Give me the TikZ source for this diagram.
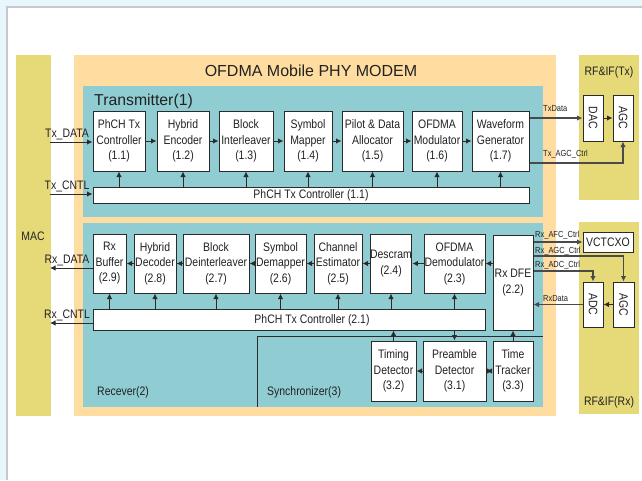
\documentclass[tikz,border=0pt]{standalone}
\usepackage{fontspec}
\usepackage{graphicx}
\setmainfont{Liberation Sans}
\newfontfamily\narrowfont[FakeStretch=0.85]{Liberation Sans}
\usepackage{xcolor}
\usetikzlibrary{arrows.meta}

\definecolor{pageblue}{HTML}{EAF6FD}
\definecolor{bordergray}{HTML}{C6C9CC}
\definecolor{macyellow}{HTML}{E6DA78}
\definecolor{modemorange}{HTML}{FFDDA0}
\definecolor{unitteal}{HTML}{8FCDD3}
\definecolor{linegray}{HTML}{2B2B2B}
\definecolor{siggray}{HTML}{4A4A4A}
\definecolor{textgray}{HTML}{222222}

\begin{document}
\begin{tikzpicture}[x=1pt, y=-1pt]

        \tikzset{
            blk/.style={draw=linegray, fill=white, line width=1pt, inner sep=0pt,
                align=center, text=textgray, font=\narrowfont\fontsize{12.3}{15.5}\selectfont},
            lbl/.style={inner sep=0pt, text=textgray, font=\narrowfont\fontsize{12.3}{14}\selectfont},
            siglbl/.style={inner sep=0pt, text=textgray, font=\narrowfont\fontsize{8.8}{10}\selectfont},
            arr/.style={draw=linegray, line width=1pt, -{Latex[length=5.5pt,width=5.5pt]}},
            darr/.style={draw=linegray, line width=1pt, {Latex[length=5.5pt,width=5.5pt]}-{Latex[length=5.5pt,width=5.5pt]}},
            sig/.style={draw=siggray, line width=1.3pt}
        }

        % Page and frame
        \useasboundingbox (0,0) rectangle (642,480);
        \fill[pageblue] (0,0) rectangle (642,480);
        \fill[white] (7,7) rectangle (642,480);
        \draw[bordergray, line width=1.5pt] (7,480) -- (7,7) -- (642,7);

        % 1. Regions (MAC, modem, RF parts, units)
        \fill[macyellow] (16,55) rectangle (51,416);
        \fill[modemorange] (74,55) rectangle (556,416);
        \fill[macyellow] (579,55) rectangle (639,200);
        \fill[macyellow] (579,222) rectangle (639,414);
        \fill[unitteal] (83,86) rectangle (543,217);
        \fill[unitteal] (83,223) rectangle (543,407);

        \node[lbl] (mac) at (33,236) {MAC};
        \node[inner sep=0pt, text=textgray, font=\fontsize{16}{18}\selectfont] (modem) at (311,71) {OFDMA Mobile PHY MODEM};
        \node[lbl] (rftx) at (609,72) {RF\&IF(Tx)};
        \node[lbl] (rfrx) at (609,402.5) {RF\&IF(Rx)};
        \node[inner sep=0pt, text=textgray, font=\fontsize{15.8}{18}\selectfont, anchor=base west] (txunit) at (94,105) {Transmitter(1)};
        \node[lbl, anchor=base west] (rxunit) at (97,395) {Recever(2)};
        \node[lbl, anchor=base west] (syncunit) at (267,395) {Synchronizer(3)};

        % Synchronizer outline
        \draw[linegray, line width=1pt] (257,407) -- (257,336) -- (543,336);

        % 2. Transmitter chain
        \node[blk, minimum width=52pt, minimum height=60pt] (tx1) at (119,141) {PhCH Tx\\Controller\\(1.1)};
        \node[blk, minimum width=52pt, minimum height=60pt] (tx2) at (183,141) {Hybrid\\Encoder\\(1.2)};
        \node[blk, minimum width=54pt, minimum height=60pt] (tx3) at (246,141) {Block\\Interleaver\\(1.3)};
        \node[blk, minimum width=48pt, minimum height=60pt] (tx4) at (308,141) {Symbol\\Mapper\\(1.4)};
        \node[blk, minimum width=61pt, minimum height=60pt] (tx5) at (372.5,141) {Pilot \& Data\\Allocator\\(1.5)};
        \node[blk, minimum width=50pt, minimum height=60pt] (tx6) at (437,141) {OFDMA\\Modulator\\(1.6)};
        \node[blk, minimum width=57pt, minimum height=60pt] (tx7) at (500.5,141) {Waveform\\Generator\\(1.7)};
        \node[blk, minimum width=436pt, minimum height=16pt] (txbar) at (311,195) {PhCH Tx Controller (1.1)};

        \foreach \a/\b in {tx1/tx2, tx2/tx3, tx3/tx4, tx4/tx5, tx5/tx6, tx6/tx7}
            \draw[arr] (\a) -- (\b);
        \foreach \b in {tx1, tx2, tx3, tx4, tx5, tx6, tx7}
            \draw[arr] (\b.south |- txbar.north) -- (\b.south);

        % MAC -> transmitter
        \coordinate (txdata) at (50,142);
        \coordinate (txcntl) at (50,194);
        \draw[arr] (txdata) -- (txdata -| tx1.west);
        \draw[arr] (txcntl) -- (txcntl -| txbar.west);
        \node[lbl, anchor=base] (txdatalbl) at (67,137) {Tx\_DATA};
        \node[lbl, anchor=base] (txcntllbl) at (67,189) {Tx\_CNTL};

        % 3. RF&IF (Tx)
        \node[blk, minimum width=20pt, minimum height=46pt] (dac) at (593,118) {\rotatebox{-90}{DAC}};
        \node[blk, minimum width=20pt, minimum height=46pt] (agctx) at (623,118) {\rotatebox{-90}{AGC}};
        \draw[arr] (dac) -- (agctx);
        \coordinate (agcctltx) at (623,163);
        \draw[arr, sig] (dac.west -| tx7.east) -- (dac.west);
        \draw[arr, sig] (tx7.east |- agcctltx) -- (agcctltx) -- (agctx.south);
        \node[siglbl, anchor=base west] (txdatasig) at (543,111) {TxData};
        \node[siglbl, anchor=base west] (txagcsig) at (543,156) {Tx\_AGC\_Ctrl};

        % 4. Receiver chain
        \node[blk, minimum width=40pt, minimum height=95pt] (rx2) at (513,282.5) {Rx DFE\\(2.2)};
        \node[blk, minimum width=61pt, minimum height=59pt] (rx3) at (454.5,263.5) {OFDMA\\Demodulator\\(2.3)};
        \node[blk, minimum width=40pt, minimum height=59pt] (rx4) at (391,263.5) {Descram\\(2.4)};
        \node[blk, minimum width=48pt, minimum height=59pt] (rx5) at (338,263.5) {Channel\\Estimator\\(2.5)};
        \node[blk, minimum width=51pt, minimum height=59pt] (rx6) at (280.5,263.5) {Symbol\\Demapper\\(2.6)};
        \node[blk, minimum width=66pt, minimum height=59pt] (rx7) at (216,263.5) {Block\\Deinterleaver\\(2.7)};
        \node[blk, minimum width=42pt, minimum height=59pt] (rx8) at (155,263.5) {Hybrid\\Decoder\\(2.8)};
        \node[blk, minimum width=33pt, minimum height=59pt] (rx9) at (109.5,263.5) {Rx\\Buffer\\(2.9)};
        \node[blk, minimum width=392pt, minimum height=21pt] (rxbar) at (289,319.5) {};
        \node[lbl] (rxbartext) at (312,320) {PhCH Tx Controller (2.1)};

        \draw[arr] (rx3.east -| rx2.west) -- (rx3.east);
        \foreach \a/\b in {rx3/rx4, rx4/rx5, rx5/rx6, rx6/rx7, rx7/rx8, rx8/rx9}
            \draw[arr] (\a) -- (\b);
        \foreach \b in {rx3, rx4, rx5, rx6, rx7, rx8, rx9}
            \draw[arr] (\b.south |- rxbar.north) -- (\b.south);

        % receiver -> MAC
        \coordinate (rxdata) at (50,268);
        \coordinate (rxcntl) at (50,323);
        \draw[arr] (rx9.west |- rxdata) -- (rxdata);
        \draw[arr] (rxbar.west |- rxcntl) -- (rxcntl);
        \node[lbl, anchor=base] (rxdatalbl) at (67,263) {Rx\_DATA};
        \node[lbl, anchor=base] (rxcntllbl) at (67,318) {Rx\_CNTL};

        % 5. Synchronizer
        \node[blk, minimum width=45pt, minimum height=60pt] (sy2) at (393.5,371) {Timing\\Detector\\(3.2)};
        \node[blk, minimum width=63pt, minimum height=60pt] (sy1) at (454.5,371) {Preamble\\Detector\\(3.1)};
        \node[blk, minimum width=40pt, minimum height=60pt] (sy3) at (513,371) {Time\\Tracker\\(3.3)};
        \draw[arr] (sy2.north) -- (sy2.north |- rxbar.south);
        \draw[arr] (sy1.north |- rxbar.south) -- (sy1.north);
        \draw[arr] (sy1) -- (sy2);
        \draw[darr] (sy1) -- (sy3);
        \draw[arr] (sy3.north) -- (sy3.north |- rx2.south);

        % 6. RF&IF (Rx)
        \node[blk, minimum width=50pt, minimum height=20pt] (vco) at (608,242) {VCTCXO};
        \node[blk, minimum width=20pt, minimum height=45pt] (adc) at (593,304.5) {\rotatebox{-90}{ADC}};
        \node[blk, minimum width=21pt, minimum height=45pt] (agcrx) at (623.5,304.5) {\rotatebox{-90}{AGC}};
        \draw[arr] (agcrx) -- (adc);
        \coordinate (agcctlrx) at (623.5,256);
        \coordinate (adcctl) at (593,271);
        \draw[arr, sig] (rx2.east |- vco.west) -- (vco.west);
        \draw[arr, sig] (rx2.east |- agcctlrx) -- (agcctlrx) -- (agcrx.north);
        \draw[arr, sig] (rx2.east |- adcctl) -- (adcctl) -- (adc.north);
        \draw[arr, sig] (adc.west) -- (adc.west -| rx2.east);
        \node[siglbl, anchor=base west] (afcsig) at (535,237) {Rx\_AFC\_Ctrl};
        \node[siglbl, anchor=base west] (agcsig) at (535,253) {Rx\_AGC\_Ctrl};
        \node[siglbl, anchor=base west] (adcsig) at (535,267) {Rx\_ADC\_Ctrl};
        \node[siglbl, anchor=base west] (rxdatasig) at (543,301) {RxData};

\end{tikzpicture}
\end{document}
